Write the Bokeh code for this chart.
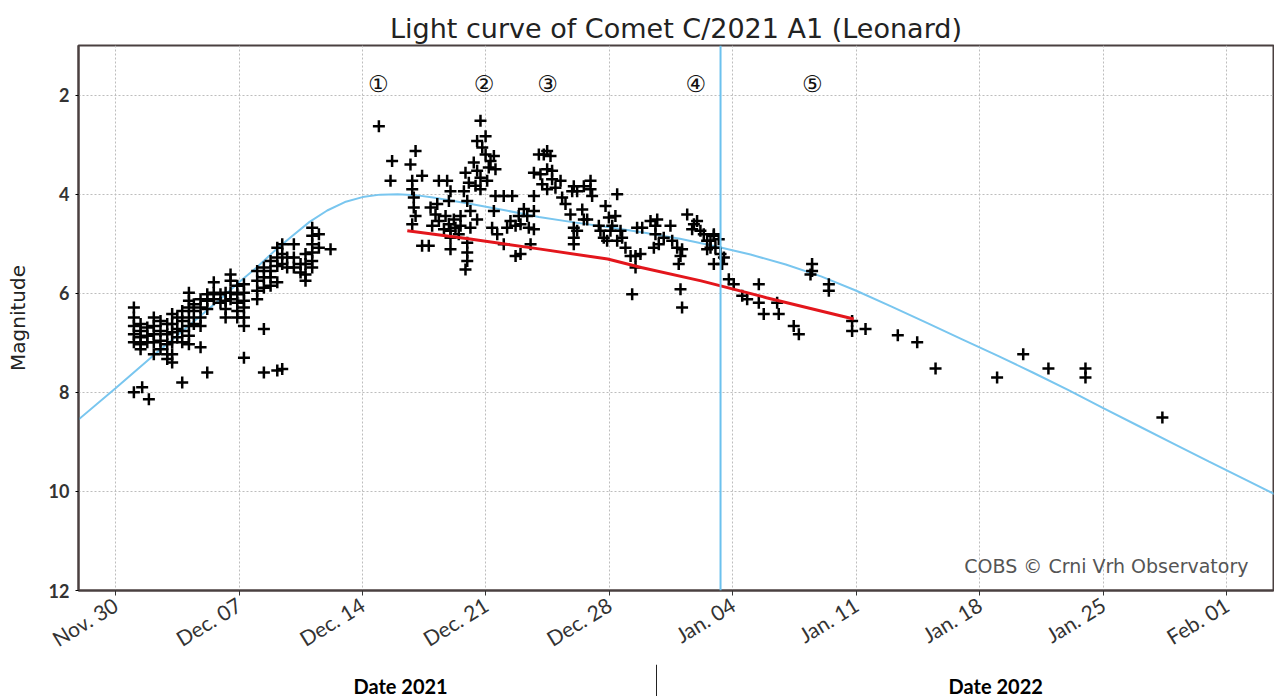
from bokeh.plotting import figure
from bokeh.layouts import column
from bokeh.models import Range1d, FixedTicker, Span, Label, ColumnDataSource
from bokeh.core.properties import value
from bokeh.embed import file_html
from bokeh.resources import INLINE

# x values: days after 2021-11-30 00:00 UT
tick_days = [0, 7, 14, 21, 28, 35, 42, 49, 56, 63]
tick_labels = ["Nov. 30", "Dec. 07", "Dec. 14", "Dec. 21", "Dec. 28",
               "Jan. 04", "Jan. 11", "Jan. 18", "Jan. 25", "Feb. 01"]
mag_ticks = [2, 4, 6, 8, 10, 12]

# observation nights and the magnitudes reported for each
obs_nights = [
    1.04, 1.42, 1.51, 1.80, 1.89, 2.17, 2.55, 2.93, 3.21, 3.50, 3.78, 4.16, 4.44, 4.82,
    5.20, 5.57, 5.95, 6.24, 6.52, 6.90, 7.28, 8.03, 8.41, 8.79, 9.17, 9.45, 9.73, 10.11,
    10.49, 10.77, 11.15, 11.53, 12.19,
    14.93, 15.59, 15.68, 16.72, 16.82, 16.91, 17.01, 17.38, 17.76, 17.86, 17.95, 18.14,
    18.24, 18.33, 18.62, 18.71, 18.80, 18.90, 18.99, 19.18, 19.27, 19.46, 19.56, 19.75,
    19.84, 19.94, 20.03, 20.12, 20.31, 20.41, 20.50, 20.69, 20.79, 20.98, 21.07, 21.16,
    21.26, 21.35, 21.45, 21.54, 21.64, 22.01, 22.20, 22.39, 22.49, 22.68, 22.86, 22.96,
    23.15, 23.34, 23.43, 23.53, 23.72, 24.00, 24.09, 24.19, 24.28, 24.47, 24.66, 24.75,
    24.94, 25.23, 25.32, 25.51, 25.79, 25.89, 25.98, 26.17, 26.46, 26.55, 26.74, 26.93,
    27.02, 27.40, 27.49, 27.68, 27.78, 27.87, 27.97, 28.06, 28.16, 28.34, 28.44, 28.63,
    28.72, 28.91, 29.20, 29.29, 29.48, 29.57, 29.76, 29.86, 30.33, 30.52, 30.61, 30.71,
    30.80, 31.08, 31.46, 31.56, 31.84, 31.93, 32.03, 32.12, 32.41, 32.69, 32.79, 32.97,
    33.16, 33.35, 33.54, 33.73, 33.92, 34.01, 34.20, 34.30, 34.39, 34.49, 34.77, 35.05,
    35.53, 35.81, 36.47, 36.75, 37.51, 37.60, 38.45, 38.74, 39.40, 39.49, 40.44, 41.76,
    42.52, 44.35, 45.45, 46.49, 49.98, 51.46, 52.89, 54.99, 59.35,
]
obs_mags = [
    [6.29, 6.49, 6.66, 6.83, 6.99, 8.00], [6.62, 6.76, 6.89, 7.03, 7.13], [7.90],
    [6.69, 6.86, 6.99], [8.14], [6.49, 6.66, 6.83, 6.99, 7.23], [6.56, 6.76, 6.96, 7.13],
    [6.62, 6.83, 7.03, 7.23, 7.33], [6.42, 6.62, 6.79, 6.99, 7.23, 7.40], [6.49, 6.72, 6.89],
    [6.36, 6.56, 6.76, 6.99, 7.80], [5.99, 6.15, 6.29, 6.49, 6.66, 6.86, 7.03],
    [6.22, 6.36, 6.62], [6.12, 6.29, 6.49, 6.66, 7.09],
    [6.02, 6.15, 6.32, 7.60], [5.78, 5.99, 6.12], [6.02, 6.19], [5.99, 6.15, 6.32, 6.49],
    [5.62, 5.75, 5.99, 6.12], [5.85, 6.02, 6.19, 6.36, 6.49],
    [5.82, 5.99, 6.15, 6.29, 6.49, 6.66, 7.30], [5.55, 5.75, 5.95, 6.12],
    [5.48, 5.68, 5.89, 6.72, 7.60], [5.35, 5.55, 5.68, 5.85], [5.08, 5.28, 5.45, 5.78, 7.56],
    [5.01, 5.21, 5.41, 7.53], [5.28, 5.48], [5.01, 5.28, 5.48],
    [5.41, 5.58], [5.21, 5.41, 5.62, 5.75], [4.68, 4.84, 5.01, 5.18, 5.35, 5.48],
    [4.81, 5.08], [5.11],
    [2.63], [3.73], [3.33], [3.40], [3.73, 3.90, 4.61], [4.07, 4.27], [3.13, 4.44],
    [3.63, 5.04], [5.04], [4.27], [4.64], [4.41],
    [4.20], [3.73, 4.54], [4.71], [4.44], [3.73], [4.14, 4.61], [3.94, 4.74, 4.88, 5.11],
    [4.51], [4.68], [4.81], [4.44, 4.64], [3.94],
    [3.57, 5.52], [4.14, 4.98, 5.18, 5.35], [3.77], [4.34, 4.68], [3.36], [3.83],
    [2.93, 3.53, 4.51], [2.52, 3.67, 3.90], [3.06], [2.83, 3.20], [3.73], [3.46],
    [3.33], [4.68], [3.23, 4.34], [3.50, 4.04], [4.81], [4.04, 5.01], [4.68], [4.54],
    [4.04], [4.64, 5.25], [4.44], [4.61, 5.21],
    [4.30], [4.44], [4.68], [5.01], [3.57, 4.04, 4.34, 4.71], [3.20], [3.60], [3.80],
    [3.20], [3.13, 3.50, 3.90], [3.23], [3.53, 3.70],
    [3.87], [3.73], [4.07], [4.20], [4.41], [3.94], [3.84, 4.68, 4.88, 5.01], [3.94, 4.74],
    [4.31], [3.84, 4.51], [4.51], [3.73, 3.90],
    [4.04], [4.64], [4.74], [4.88], [4.24], [4.94], [4.47], [4.74], [4.64], [4.44],
    [4.00, 4.94], [4.74],
    [4.88], [5.08], [5.25], [6.02], [5.25, 5.48], [4.68], [5.21], [4.68], [4.54], [5.08],
    [4.64, 4.81], [4.51],
    [5.01], [4.88], [4.64], [4.94], [5.08], [5.41], [5.25, 5.92], [5.11, 6.29], [4.41],
    [4.71], [4.61], [4.54],
    [4.74], [4.81], [4.94, 5.11], [4.94, 5.08], [4.81, 4.84, 5.41], [5.08], [4.91], [5.21],
    [5.41], [5.28], [5.72], [5.82],
    [6.05], [6.12], [5.82, 6.19], [6.42], [6.19], [6.42], [6.66], [6.83], [5.62],
    [5.41, 5.55], [5.82, 5.95], [6.56, 6.76],
    [6.72], [6.85], [6.99], [7.52], [7.70], [7.23], [7.52], [7.52, 7.70], [8.51],
]

# model light curve (light blue)
model_day = [-2.1, 0, 2, 4, 6, 7, 8, 9, 10, 11, 12, 13, 14, 15, 16, 17, 18, 20, 22,
             24, 26, 28, 30, 32, 34, 36, 38, 40, 42, 44, 46, 48, 50, 52, 54, 56, 58,
             60, 62, 64, 65.8]
model_mag = [8.55, 7.92, 7.30, 6.70, 6.10, 5.78, 5.48, 5.15, 4.85, 4.56, 4.33, 4.16,
             4.06, 4.01, 4.00, 4.02, 4.07, 4.19, 4.32, 4.46, 4.57, 4.67, 4.78, 4.90,
             5.05, 5.22, 5.42, 5.66, 5.95, 6.27, 6.60, 6.93, 7.26, 7.60, 7.95, 8.32,
             8.68, 9.04, 9.40, 9.75, 10.07]

# trend line (red)
trend_day = [16.54, 20.0, 24.1, 27.9, 29.8, 33.2, 36.9, 41.85]
trend_mag = [4.74, 4.90, 5.11, 5.31, 5.48, 5.75, 6.09, 6.52]

perihelion_day = 34.3

anno_day = [14.9, 20.9, 24.5, 32.9, 39.5]
anno_mag = [1.78, 1.78, 1.78, 1.78, 1.78]
anno_text = ["\u2460", "\u2461", "\u2462", "\u2463", "\u2464"]

# captions under the date axis (centred on these days) and the divider between them
year_label_day = [16.16, 49.9]
year_labels = ["Date 2021", "Date 2022"]
year_divider_day = 30.67

obs_day = []
obs_mag = []
for d, ms in zip(obs_nights, obs_mags):
    for m in ms:
        obs_day.append(d)
        obs_mag.append(m)

FONT = "DejaVu Sans"

p = figure(width=1274, height=664, output_backend="svg", toolbar_location=None,
           x_range=Range1d(-2.1, 65.65), y_range=Range1d(12, 1),
           min_border_left=78, min_border_right=1, min_border_top=45, min_border_bottom=74,
           background_fill_color="white", border_fill_color="white")

p.title.text = "Light curve of Comet C/2021 A1 (Leonard)"
p.title.align = "center"
p.title.text_font = FONT
p.title.text_font_size = "27px"
p.title.text_font_style = "normal"
p.title.text_color = "#222222"
p.title.standoff = 4

p.outline_line_color = "#4a4040"
p.outline_line_width = 2

p.xaxis.ticker = FixedTicker(ticks=tick_days)
p.xaxis.major_label_overrides = {d: t for d, t in zip(tick_days, tick_labels)}
p.xaxis.major_label_orientation = 0.55
p.xaxis.major_label_text_font = "Lato"
p.xaxis.major_label_text_font_size = "21px"
p.xaxis.major_label_text_color = "#333333"
p.xaxis.major_label_standoff = 7
p.xaxis.axis_line_color = "#4a4040"
p.xaxis.axis_line_width = 2
p.xaxis.major_tick_out = 5
p.xaxis.major_tick_in = 0
p.xaxis.major_tick_line_color = "#333333"
p.xaxis.minor_tick_line_color = None

p.yaxis.ticker = FixedTicker(ticks=mag_ticks)
p.yaxis.major_label_text_font = "Lato"
p.yaxis.major_label_text_font_style = "bold"
p.yaxis.major_label_text_font_size = "18px"
p.yaxis.major_label_text_color = "#333333"
p.yaxis.axis_label = "Magnitude"
p.yaxis.axis_label_text_font = FONT
p.yaxis.axis_label_text_font_size = "20px"
p.yaxis.axis_label_text_font_style = "normal"
p.yaxis.axis_label_text_color = "#222222"
p.yaxis.axis_label_standoff = 16
p.yaxis.major_label_standoff = 6
p.yaxis.axis_line_color = "#4a4040"
p.yaxis.axis_line_width = 2
p.yaxis.major_tick_out = 3
p.yaxis.major_tick_in = 0
p.yaxis.minor_tick_line_color = None

p.xgrid.grid_line_color = "#bdbdbd"
p.xgrid.grid_line_dash = "2 2"
p.ygrid.grid_line_color = "#bdbdbd"
p.ygrid.grid_line_dash = "2 2"

p.line(model_day, model_mag, line_color="#79c6ef", line_width=2)
p.add_layout(Span(location=perihelion_day, dimension="height",
                  line_color="#6cc1ee", line_width=2))
p.scatter(obs_day, obs_mag, marker="cross", size=12, line_width=2.5,
          line_color="black")
p.line(trend_day, trend_mag, line_color="#e3161c", line_width=3)

src = ColumnDataSource(dict(x=anno_day, y=anno_mag, t=anno_text))
p.text(x="x", y="y", text="t", source=src, text_font=value(FONT),
       text_font_size="23px", text_align="center", text_baseline="middle",
       text_color="#111111")

p.add_layout(Label(x=1170, y=25, x_units="screen", y_units="screen",
                   text="COBS \u00a9 Crni Vrh Observatory", text_font=FONT,
                   text_font_size="19px", text_color="#555555",
                   text_align="right", text_baseline="middle"))

# strip below the chart with the year captions (shares the date axis range)
p2 = figure(width=1274, height=32, output_backend="svg", toolbar_location=None,
            x_axis_type=None, y_axis_type=None, x_range=p.x_range,
            y_range=Range1d(0, 32), min_border=0, outline_line_color=None,
            background_fill_color="white", border_fill_color="white")
p2.xgrid.visible = False
p2.ygrid.visible = False
for d, t in zip(year_label_day, year_labels):
    p2.add_layout(Label(x=d, y=11, x_units="data", y_units="screen", text=t,
                        text_font="Lato", text_font_style="bold", text_font_size="20px",
                        text_color="black", text_align="center", text_baseline="middle"))
p2.add_layout(Span(location=year_divider_day, dimension="height",
                   line_color="#222222", line_width=1))

layout = column(p, p2, spacing=0)
open("out.html", "w").write(file_html(layout, INLINE))
